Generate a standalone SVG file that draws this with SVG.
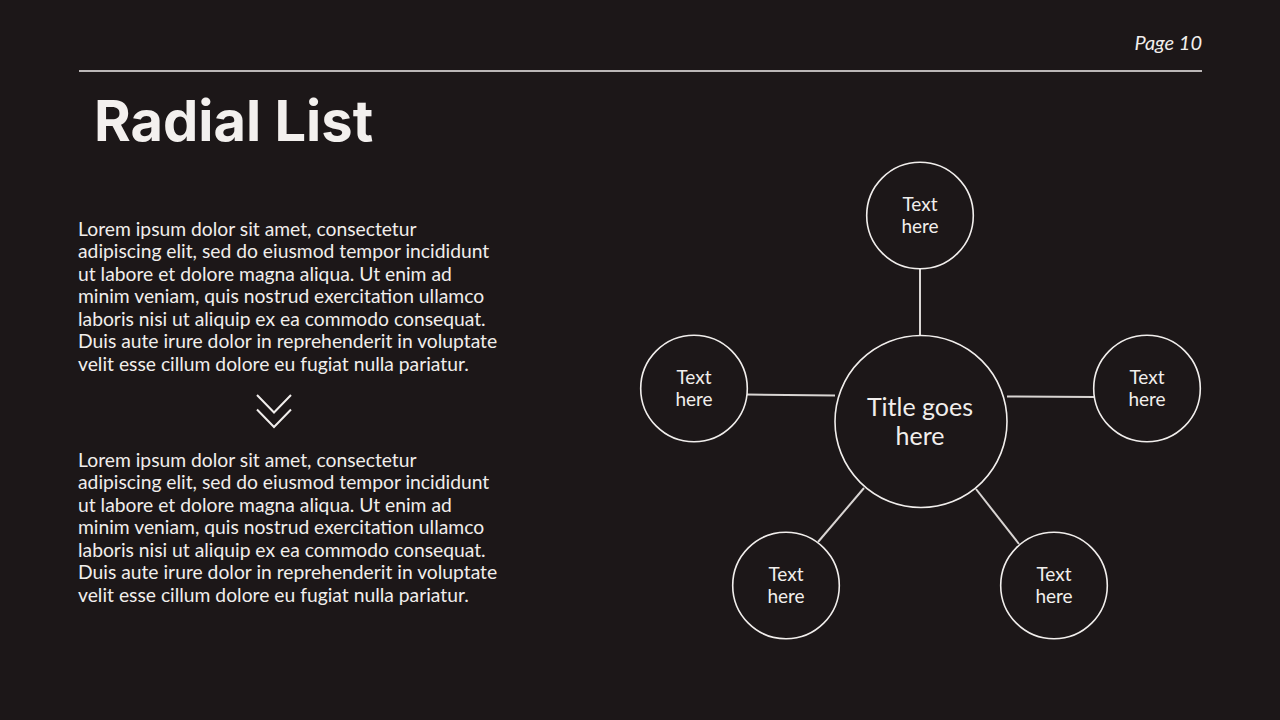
<svg xmlns="http://www.w3.org/2000/svg" width="1280" height="720" viewBox="0 0 1280 720">
<style>
.body{font-family:Lato,"Noto Sans",sans-serif;font-size:19.3px;fill:#f1eeec}
.lbl{font-family:Lato,"Noto Sans",sans-serif;font-size:19px;fill:#f1eeec;text-anchor:middle}
.ttl{font-family:Lato,"Noto Sans",sans-serif;font-size:25px;fill:#f1eeec;text-anchor:middle}
.node{fill:#1c1718;stroke:#f1eeec;stroke-width:1.6}
.conn{stroke:#d9d5d3;stroke-width:2;fill:none}
</style>
<rect width="1280" height="720" fill="#1c1718"/>
<text x="1202" y="50" text-anchor="end" font-family="Lato,'Noto Sans',sans-serif" font-style="italic" font-size="20" fill="#f1eeec">Page 10</text>
<line x1="79" y1="71" x2="1202" y2="71" stroke="#f1eeec" stroke-width="1.6"/>
<text x="94" y="141" font-family="Inter,'Noto Sans',sans-serif" font-weight="700" font-size="56" fill="#f3f0ee">Radial List</text>
<g id="para1" class="body">
<text x="78" y="235.5">Lorem ipsum dolor sit amet, consectetur</text>
<text x="78" y="258">adipiscing elit, sed do eiusmod tempor incididunt</text>
<text x="78" y="280.5">ut labore et dolore magna aliqua. Ut enim ad</text>
<text x="78" y="303">minim veniam, quis nostrud exercitation ullamco</text>
<text x="78" y="325.5">laboris nisi ut aliquip ex ea commodo consequat.</text>
<text x="78" y="348">Duis aute irure dolor in reprehenderit in voluptate</text>
<text x="78" y="370.5">velit esse cillum dolore eu fugiat nulla pariatur.</text>
</g>
<g id="chevron" fill="none" stroke="#f1eeec" stroke-width="2">
<polyline points="257,395 274,412.5 291,395"/>
<polyline points="257,409.5 274,427 291,409.5"/>
</g>
<g id="para2" class="body">
<text x="78" y="466.5">Lorem ipsum dolor sit amet, consectetur</text>
<text x="78" y="489">adipiscing elit, sed do eiusmod tempor incididunt</text>
<text x="78" y="511.5">ut labore et dolore magna aliqua. Ut enim ad</text>
<text x="78" y="534">minim veniam, quis nostrud exercitation ullamco</text>
<text x="78" y="556.5">laboris nisi ut aliquip ex ea commodo consequat.</text>
<text x="78" y="579">Duis aute irure dolor in reprehenderit in voluptate</text>
<text x="78" y="601.5">velit esse cillum dolore eu fugiat nulla pariatur.</text>
</g>
<g id="connectors">
<line class="conn" x1="920" y1="269" x2="920" y2="335"/>
<line class="conn" x1="747" y1="394.5" x2="835" y2="395.5"/>
<line class="conn" x1="1007" y1="396.5" x2="1094" y2="397"/>
<line class="conn" x1="818" y1="542" x2="864" y2="488"/>
<line class="conn" x1="976" y1="489" x2="1019" y2="544"/>
</g>
<g id="center">
<circle class="node" cx="921" cy="421.5" r="86"/>
<text class="ttl" x="920" y="415.5">Title goes</text>
<text class="ttl" x="920" y="444.5">here</text>
</g>
<g id="top">
<circle class="node" cx="920" cy="215.5" r="53.3"/>
<text class="lbl" x="920" y="211">Text</text>
<text class="lbl" x="920" y="233">here</text>
</g>
<g id="left">
<circle class="node" cx="694" cy="388.5" r="53.3"/>
<text class="lbl" x="694" y="384">Text</text>
<text class="lbl" x="694" y="406">here</text>
</g>
<g id="right">
<circle class="node" cx="1147" cy="388.5" r="53.3"/>
<text class="lbl" x="1147" y="384">Text</text>
<text class="lbl" x="1147" y="406">here</text>
</g>
<g id="bottomleft">
<circle class="node" cx="786" cy="585.5" r="53.3"/>
<text class="lbl" x="786" y="581">Text</text>
<text class="lbl" x="786" y="603">here</text>
</g>
<g id="bottomright">
<circle class="node" cx="1054" cy="585.5" r="53.3"/>
<text class="lbl" x="1054" y="581">Text</text>
<text class="lbl" x="1054" y="603">here</text>
</g>
</svg>
